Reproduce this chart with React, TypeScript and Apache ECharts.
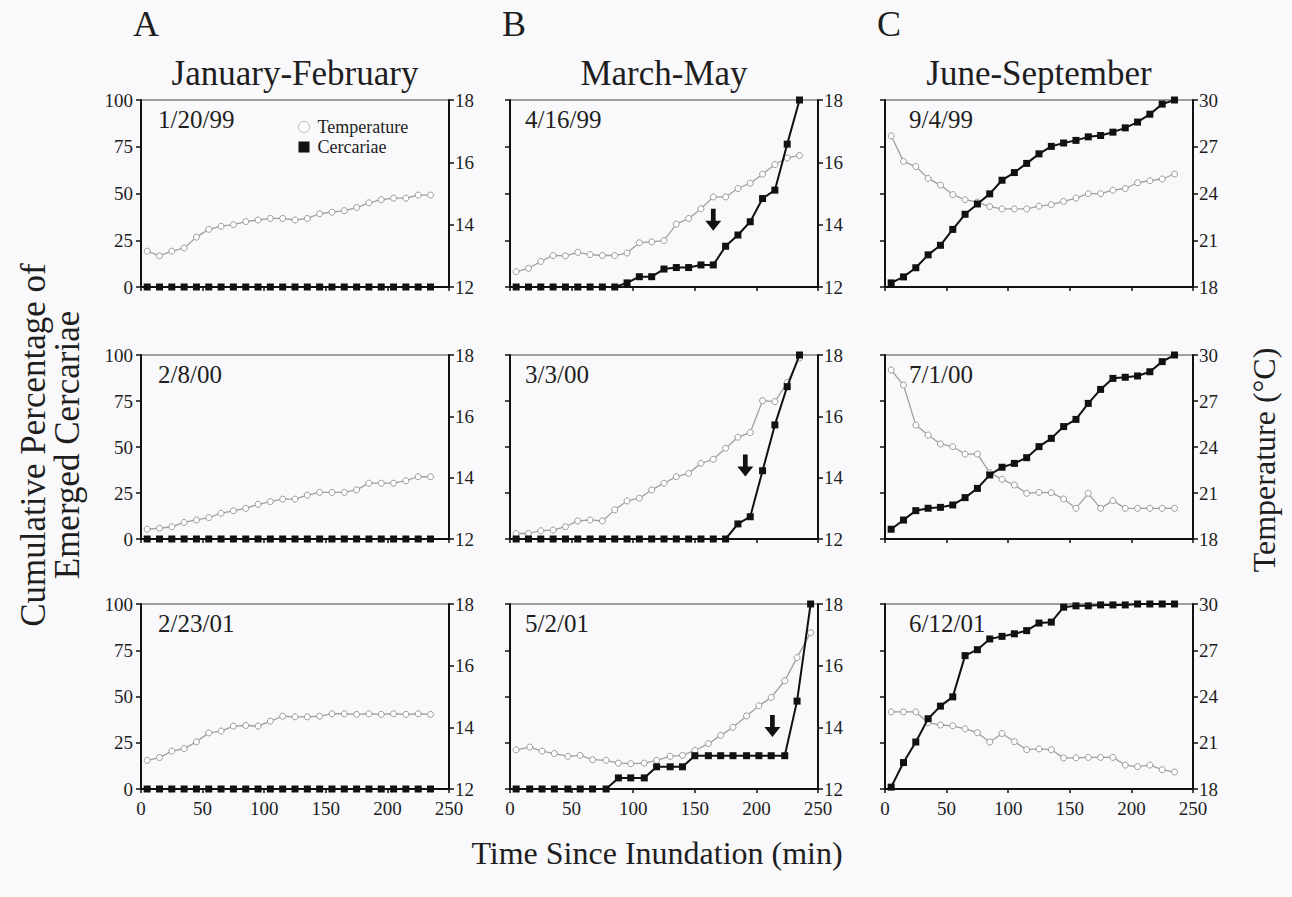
import React, { useEffect, useRef } from "react";
import * as echarts from "echarts";

// ---------- data ----------
const timesStd = [5, 15, 25, 35, 45, 55, 65, 75, 85, 95, 105, 115, 125, 135, 145, 155, 165, 175, 185, 195, 205, 215, 225, 235];
const timesB3 = [5, 16, 26, 36, 47, 57, 67, 78, 88, 98, 109, 119, 130, 140, 150, 161, 171, 181, 192, 202, 212, 223, 233, 244];

const xTicks = [0, 50, 100, 150, 200, 250];
const pctTicks = [0, 25, 50, 75, 100];
const tempTicksAB = [12, 14, 16, 18];
const tempTicksC = [18, 21, 24, 27, 30];

const columnTitles = ["January-February", "March-May", "June-September"];
const columnLetters = ["A", "B", "C"];
const panelDates = ["1/20/99", "4/16/99", "9/4/99", "2/8/00", "3/3/00", "7/1/00", "2/23/01", "5/2/01", "6/12/01"];

// Cumulative percentage of emerged cercariae (%)
const cercA1 = [0, 0, 0, 0, 0, 0, 0, 0, 0, 0, 0, 0, 0, 0, 0, 0, 0, 0, 0, 0, 0, 0, 0, 0];
const cercA2 = [0, 0, 0, 0, 0, 0, 0, 0, 0, 0, 0, 0, 0, 0, 0, 0, 0, 0, 0, 0, 0, 0, 0, 0];
const cercA3 = [0, 0, 0, 0, 0, 0, 0, 0, 0, 0, 0, 0, 0, 0, 0, 0, 0, 0, 0, 0, 0, 0, 0, 0];
const cercB1 = [0, 0, 0, 0, 0, 0, 0, 0, 0, 2.2, 5.5, 5.5, 9.6, 10.4, 10.4, 11.8, 11.8, 21.8, 27.8, 34.9, 47.3, 51.8, 76.4, 100];
const cercB2 = [0, 0, 0, 0, 0, 0, 0, 0, 0, 0, 0, 0, 0, 0, 0, 0, 0, 0, 8.2, 12.1, 37.1, 62, 82.8, 100];
const cercB3 = [0, 0, 0, 0, 0, 0, 0, 0, 6, 6, 6, 12, 12, 12, 18, 18, 18, 18, 18, 18, 18, 18, 47.5, 100];
const cercC1 = [2.2, 5.4, 10.3, 17.2, 22.3, 30.8, 38.9, 44.4, 49.8, 57.1, 61.2, 66.1, 71.2, 75.2, 77, 78.4, 80.3, 81, 82.8, 85.1, 88.2, 92.4, 97.8, 100];
const cercC2 = [5.3, 10.3, 15.4, 16.7, 17.2, 18.5, 22.5, 27.5, 34.8, 39, 41.1, 44.2, 50.2, 54.7, 61.1, 65, 73.7, 81.3, 87.3, 87.9, 88.6, 90.9, 96.4, 100];
const cercC3 = [1, 14.3, 25.4, 38, 44.8, 49.8, 72.1, 75.3, 81.1, 82.5, 83.9, 85.6, 89.7, 90.2, 98.3, 99, 99, 99.5, 99.5, 99.5, 100, 100, 100, 100];

// Temperature (°C)
const tempA1 = [13.15, 13.0, 13.15, 13.25, 13.6, 13.85, 13.95, 14.0, 14.1, 14.15, 14.2, 14.2, 14.15, 14.2, 14.35, 14.4, 14.45, 14.55, 14.7, 14.8, 14.85, 14.85, 14.95, 14.95];
const tempA2 = [12.32, 12.35, 12.4, 12.54, 12.62, 12.7, 12.84, 12.92, 13.0, 13.13, 13.22, 13.3, 13.3, 13.43, 13.52, 13.52, 13.52, 13.6, 13.82, 13.82, 13.82, 13.9, 14.03, 14.03];
const tempA3 = [12.93, 13.02, 13.23, 13.31, 13.53, 13.82, 13.88, 14.04, 14.06, 14.04, 14.2, 14.36, 14.34, 14.34, 14.36, 14.44, 14.44, 14.42, 14.44, 14.42, 14.44, 14.42, 14.44, 14.42];
const tempB1 = [12.49, 12.6, 12.82, 13.01, 13.0, 13.11, 13.04, 13.01, 13.01, 13.09, 13.42, 13.45, 13.49, 14.02, 14.2, 14.51, 14.89, 14.89, 15.16, 15.33, 15.62, 15.93, 16.14, 16.22];
const tempB2 = [12.18, 12.18, 12.27, 12.29, 12.4, 12.59, 12.62, 12.59, 12.95, 13.24, 13.33, 13.6, 13.82, 14.03, 14.14, 14.47, 14.6, 14.96, 15.32, 15.47, 16.51, 16.48, 17.1, 17.9];
const tempB3 = [13.27, 13.36, 13.23, 13.15, 13.06, 13.09, 12.95, 12.93, 12.84, 12.82, 12.84, 12.93, 13.06, 13.09, 13.25, 13.47, 13.74, 14.0, 14.37, 14.7, 14.97, 15.51, 16.26, 17.07];
const tempC1 = [27.7, 26.06, 25.73, 24.97, 24.54, 23.93, 23.6, 23.45, 23.16, 23.01, 23.01, 23.01, 23.19, 23.29, 23.49, 23.71, 23.99, 23.99, 24.21, 24.32, 24.69, 24.82, 24.93, 25.25];
const tempC2 = [29.02, 28.04, 25.43, 24.78, 24.2, 24.02, 23.54, 23.54, 22.33, 21.89, 21.52, 20.98, 21.04, 21.02, 20.61, 20.0, 20.98, 20.0, 20.5, 20.0, 20.0, 20.0, 20.0, 20.0];
const tempC3 = [23.0, 23.0, 23.0, 22.3, 22.15, 22.1, 21.9, 21.65, 21.05, 21.6, 21.07, 20.55, 20.6, 20.55, 20.02, 20.02, 20.05, 20.05, 20.05, 19.55, 19.45, 19.55, 19.25, 19.1];

// Arrows marking onset: [panel index, time (min), cumulative %]
const arrowPoints = [
  [1, 165, 36],
  [4, 191, 40],
  [7, 213, 34],
];

const panelTimes = [timesStd, timesStd, timesStd, timesStd, timesStd, timesStd, timesStd, timesB3, timesStd];
const panelCerc = [cercA1, cercB1, cercC1, cercA2, cercB2, cercC2, cercA3, cercB3, cercC3];
const panelTemp = [tempA1, tempB1, tempC1, tempA2, tempB2, tempC2, tempA3, tempB3, tempC3];

// ---------- layout ----------
const FONT = "Liberation Serif";
const colLeft = [141, 510, 885];
const colWidth = 308;
const rowTop = [100, 355, 604];
const rowHeight = [187, 184, 185];
const dateOffset = [17, 15, 24];
const INK = "#111";
const TEXT = "#1e1e1e";

const ARROW = "path://M6,0L11,0L11,12L17,12L8.5,22L0,12L6,12Z";

function txt(text: string, x: number, y: number, size: number, align: string, extra: any = {}) {
  return {
    type: "text",
    x,
    y,
    ...extra,
    style: {
      text,
      fontFamily: FONT,
      fontSize: size,
      fill: TEXT,
      textAlign: align,
      textVerticalAlign: "middle",
    },
  };
}

function buildOption() {
  const grids: any[] = [];
  const xAxes: any[] = [];
  const yAxes: any[] = [];
  const series: any[] = [];
  const graphics: any[] = [];

  for (let i = 0; i < 9; i++) {
    const r = Math.floor(i / 3);
    const c = i % 3;
    grids.push({
      left: colLeft[c],
      top: rowTop[r],
      width: colWidth,
      height: rowHeight[r],
      show: true,
      borderColor: "#444",
      borderWidth: 1,
      backgroundColor: "transparent",
    });
    xAxes.push({
      type: "value",
      gridIndex: i,
      min: xTicks[0],
      max: xTicks[xTicks.length - 1],
      interval: xTicks[1] - xTicks[0],
      axisLine: { show: true, onZero: false, lineStyle: { color: INK, width: 2 } },
      axisTick: { show: true, length: 4, lineStyle: { color: INK, width: 1.5 } },
      axisLabel: {
        show: r === 2,
        fontFamily: FONT,
        fontSize: 19,
        color: TEXT,
        margin: 10,
      },
      splitLine: { show: false },
    });
    const tTicks = c === 2 ? tempTicksC : tempTicksAB;
    yAxes.push({
      type: "value",
      gridIndex: i,
      position: "left",
      min: pctTicks[0],
      max: pctTicks[pctTicks.length - 1],
      interval: pctTicks[1] - pctTicks[0],
      axisLine: { show: true, onZero: false, lineStyle: { color: INK, width: 2 } },
      axisTick: { show: true, length: 5, lineStyle: { color: INK, width: 1.5 } },
      axisLabel: { show: c === 0, fontFamily: FONT, fontSize: 19, color: TEXT, margin: 8 },
      splitLine: { show: false },
    });
    yAxes.push({
      type: "value",
      gridIndex: i,
      position: "right",
      min: tTicks[0],
      max: tTicks[tTicks.length - 1],
      interval: tTicks[1] - tTicks[0],
      axisLine: { show: true, onZero: false, lineStyle: { color: INK, width: 2 } },
      axisTick: { show: true, length: 5, lineStyle: { color: INK, width: 1.5 } },
      axisLabel: { show: true, fontFamily: FONT, fontSize: 19, color: TEXT, margin: 6 },
      splitLine: { show: false },
    });

    const times = panelTimes[i];
    series.push({
      name: "Temperature",
      type: "line",
      xAxisIndex: i,
      yAxisIndex: 2 * i + 1,
      data: times.map((t, k) => [t, panelTemp[i][k]]),
      symbol: "circle",
      symbolSize: 6,
      showAllSymbol: true,
      lineStyle: { color: "#a0a0a0", width: 1.3 },
      itemStyle: { color: "#ffffff", borderColor: "#9a9a9a", borderWidth: 1 },
      z: 2,
      silent: true,
    });
    const arrows = arrowPoints.filter((a) => a[0] === i);
    series.push({
      name: "Cercariae",
      type: "line",
      xAxisIndex: i,
      yAxisIndex: 2 * i,
      data: times.map((t, k) => [t, panelCerc[i][k]]),
      symbol: "rect",
      symbolSize: 7,
      showAllSymbol: true,
      lineStyle: { color: INK, width: 2 },
      itemStyle: { color: INK },
      z: 3,
      silent: true,
      markPoint: arrows.length
        ? {
            symbol: ARROW,
            symbolSize: [16, 22],
            itemStyle: { color: INK },
            label: { show: false },
            silent: true,
            data: arrows.map((a) => ({ coord: [a[1], a[2]] })),
          }
        : undefined,
    });

    graphics.push(txt(panelDates[i], colLeft[c] + dateOffset[c], rowTop[r] + 19, 25, "left"));
  }

  for (let c = 0; c < 3; c++) {
    graphics.push(txt(columnLetters[c], colLeft[c] - 8, 24, 36, "left"));
    graphics.push(txt(columnTitles[c], colLeft[c] + colWidth / 2, 73, 35, "center"));
  }

  graphics.push(
    txt("Cumulative Percentage of", 33, 445, 35, "center", { rotation: Math.PI / 2 }),
    txt("Emerged Cercariae", 67, 445, 35, "center", { rotation: Math.PI / 2 }),
    txt("Temperature (°C)", 1264, 460, 32, "center", { rotation: Math.PI / 2 }),
    txt("Time Since Inundation (min)", 657, 853, 32, "center")
  );

  return {
    animation: false,
    backgroundColor: "#f9f9fb",
    textStyle: { fontFamily: FONT },
    legend: {
      left: 293,
      top: 113,
      orient: "vertical",
      itemWidth: 11,
      itemHeight: 11,
      itemGap: 2,
      selectedMode: false,
      textStyle: { fontFamily: FONT, fontSize: 18, color: TEXT, padding: [0, 0, 0, 3] },
      data: [
        { name: "Temperature", icon: "circle", itemStyle: { color: "#ffffff", borderColor: "#bbbbbb", borderWidth: 1 } },
        { name: "Cercariae", icon: "rect", itemStyle: { color: INK } },
      ],
    },
    grid: grids,
    xAxis: xAxes,
    yAxis: yAxes,
    series,
    graphic: { elements: graphics },
  };
}

export default function App() {
  const ref = useRef<HTMLDivElement>(null);
  useEffect(() => {
    if (!ref.current) return;
    const chart = echarts.init(ref.current, undefined, { renderer: "svg" });
    chart.setOption(buildOption() as any);
    return () => chart.dispose();
  }, []);
  return (
    <div
      ref={ref}
      style={{ position: "absolute", left: 0, top: 0, width: 1292, height: 897 }}
    />
  );
}
